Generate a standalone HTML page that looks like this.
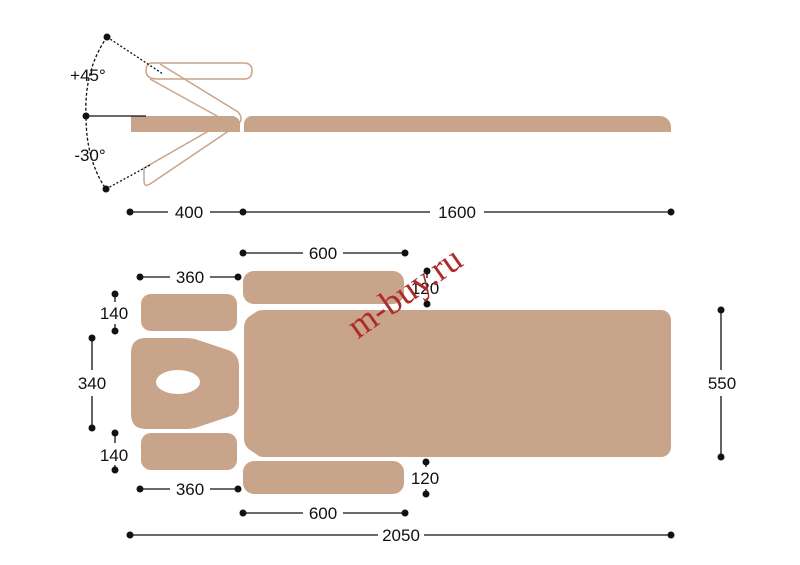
<!DOCTYPE html>
<html><head><meta charset="utf-8"><style>
html,body{margin:0;padding:0;background:#fff;}
svg{display:block}
text{font-family:"Liberation Sans",sans-serif;font-size:17px;fill:#111;}
</style></head><body>
<svg width="800" height="565" viewBox="0 0 800 565" xmlns="http://www.w3.org/2000/svg">
<g fill="#c8a48b">
<path d="M131,116 H232 A8,8 0 0 1 240,124 V132 H131 Z"/>
<path d="M244,124 A8,8 0 0 1 252,116 H660 A11,11 0 0 1 671,127 V132 H244 Z"/>
<rect x="243" y="271" width="161" height="33" rx="11"/>
<rect x="243" y="461" width="161" height="33" rx="11"/>
<rect x="141" y="294" width="96" height="37" rx="10"/>
<rect x="141" y="433" width="96" height="37" rx="10"/>
<path d="M244,328 Q244,320 250,316 L256,312 Q259,310 264,310 H661 A10,10 0 0 1 671,320 V447 A10,10 0 0 1 661,457 H264 Q259,457 256,454 L250,450 Q244,446 244,438 Z"/>
<path d="M146,338 H186 Q192,338 198,340 L228,350 Q239,354 239,366 V404 Q239,414 228,417 L198,427 Q192,429 186,429 H146 Q131,429 131,414 V353 Q131,338 146,338 Z"/>
</g>
<ellipse cx="178" cy="382" rx="22" ry="12" fill="#fff"/>
<g fill="none" stroke="#c8a48b" stroke-width="1.5">
<path d="M152,63 H244 Q252,63 252,71 Q252,79 244,79 H158 Q146,79 146,71 Q146,63 152,63 Z"/>
<path d="M160,64 L238,112 Q245,120 236,126 L150,184 Q144,188 144,180 V168 L226,121 L150,79"/>
</g>
<g stroke="#111" stroke-width="1.3" fill="none">
<line x1="86" y1="116" x2="146" y2="116"/>
<line x1="107" y1="37" x2="163" y2="74" stroke-dasharray="2,2"/>
<line x1="106" y1="189" x2="150" y2="165" stroke-dasharray="2,2"/>
<path d="M107,37 Q84,70 86,116 Q86,160 106,189" stroke-dasharray="3,2"/>
<line x1="130" y1="212" x2="168" y2="212"/><line x1="210" y1="212" x2="243" y2="212"/>
<line x1="243" y1="212" x2="430" y2="212"/><line x1="484" y1="212" x2="671" y2="212"/>
<line x1="243" y1="253" x2="303" y2="253"/><line x1="343" y1="253" x2="405" y2="253"/>
<line x1="243" y1="513" x2="303" y2="513"/><line x1="343" y1="513" x2="405" y2="513"/>
<line x1="140" y1="277" x2="170" y2="277"/><line x1="210" y1="277" x2="238" y2="277"/>
<line x1="140" y1="489" x2="170" y2="489"/><line x1="210" y1="489" x2="238" y2="489"/>
<line x1="130" y1="535" x2="378" y2="535"/><line x1="424" y1="535" x2="671" y2="535"/>
<line x1="92" y1="338" x2="92" y2="370"/><line x1="92" y1="396" x2="92" y2="428"/>
<line x1="721" y1="310" x2="721" y2="370"/><line x1="721" y1="396" x2="721" y2="457"/>
<line x1="115" y1="294" x2="115" y2="302"/><line x1="115" y1="324" x2="115" y2="331"/>
<line x1="115" y1="433" x2="115" y2="443"/><line x1="115" y1="465" x2="115" y2="470"/>
<line x1="427" y1="271" x2="427" y2="278"/><line x1="427" y1="298" x2="427" y2="304"/>
<line x1="426" y1="462" x2="426" y2="467"/><line x1="426" y1="489" x2="426" y2="494"/>
</g>
<g fill="#111">
<circle cx="107" cy="37" r="3.5"/><circle cx="86" cy="116" r="3.5"/><circle cx="106" cy="189" r="3.5"/>
<circle cx="130" cy="212" r="3.5"/><circle cx="243" cy="212" r="3.5"/><circle cx="671" cy="212" r="3.5"/>
<circle cx="243" cy="253" r="3.5"/><circle cx="405" cy="253" r="3.5"/>
<circle cx="243" cy="513" r="3.5"/><circle cx="405" cy="513" r="3.5"/>
<circle cx="140" cy="277" r="3.5"/><circle cx="238" cy="277" r="3.5"/>
<circle cx="140" cy="489" r="3.5"/><circle cx="238" cy="489" r="3.5"/>
<circle cx="130" cy="535" r="3.5"/><circle cx="671" cy="535" r="3.5"/>
<circle cx="92" cy="338" r="3.5"/><circle cx="92" cy="428" r="3.5"/>
<circle cx="721" cy="310" r="3.5"/><circle cx="721" cy="457" r="3.5"/>
<circle cx="115" cy="294" r="3.5"/><circle cx="115" cy="331" r="3.5"/>
<circle cx="115" cy="433" r="3.5"/><circle cx="115" cy="470" r="3.5"/>
<circle cx="427" cy="271" r="3.5"/><circle cx="427" cy="304" r="3.5"/>
<circle cx="426" cy="462" r="3.5"/><circle cx="426" cy="494" r="3.5"/>
</g>
<g text-anchor="middle">
<text x="88" y="81">+45°</text>
<text x="90" y="161">-30°</text>
<text x="189" y="218">400</text>
<text x="457" y="218">1600</text>
<text x="323" y="259">600</text>
<text x="323" y="519">600</text>
<text x="190" y="283">360</text>
<text x="190" y="495">360</text>
<text x="401" y="541">2050</text>
<text x="92" y="389">340</text>
<text x="722" y="389">550</text>
<text x="114" y="319">140</text>
<text x="114" y="461">140</text>
<text x="425" y="294">120</text>
<text x="425" y="484">120</text>
</g>
<text x="405" y="304" text-anchor="middle" transform="rotate(-35 405 293)" style="font-family:'Liberation Serif',serif;font-size:36px;fill:#b02a2a">m-buy.ru</text>
</svg>
</body></html>
